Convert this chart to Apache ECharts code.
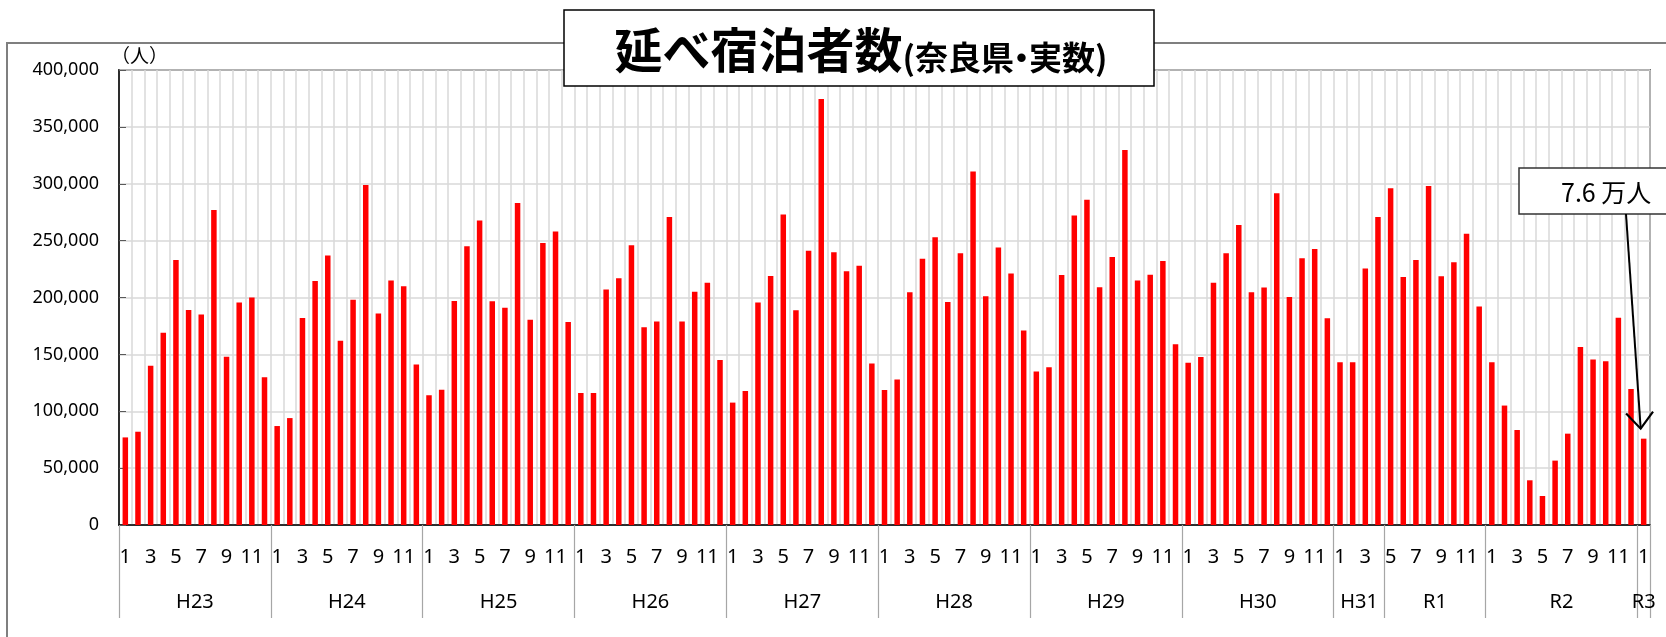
<!DOCTYPE html>
<html>
<head>
  <meta charset="utf-8">
  <title>延べ宿泊者数（奈良県・実数）</title>
  <script src="https://cdn.jsdelivr.net/npm/echarts@6/dist/echarts.min.js"></script>
  <style>
    html, body { margin: 0; padding: 0; background: #fff; }
  </style>
</head>
<body>
  <div id="main" style="width:1666px;height:637px;"></div>
  <script type="text/javascript">
    // 年度ラベル・開始月・月数
    var yearNames = ['H23', 'H24', 'H25', 'H26', 'H27', 'H28', 'H29', 'H30', 'H31', 'R1', 'R2', 'R3'];
    var yearStart = [1, 1, 1, 1, 1, 1, 1, 1, 1, 5, 1, 1];
    var yearLen = [12, 12, 12, 12, 12, 12, 12, 12, 4, 8, 12, 1];

    // 月別 延べ宿泊者数（人）
    var h23 = [77000, 82000, 140000, 169000, 233000, 189000, 185000, 277000, 148000, 195500, 200000, 130000];
    var h24 = [87000, 94000, 182000, 214500, 237000, 162000, 198000, 299000, 186000, 215000, 210000, 141000];
    var h25 = [114000, 119000, 197000, 245000, 267600, 196700, 191000, 283000, 180500, 248000, 258000, 178500];
    var h26 = [116000, 116000, 207000, 217000, 246000, 173800, 179000, 270800, 178800, 205000, 213000, 145000];
    var h27 = [107600, 117800, 195500, 219000, 273000, 188700, 241000, 374600, 239700, 223000, 228000, 142000];
    var h28 = [118700, 128000, 204600, 234000, 253000, 196000, 239000, 310700, 201000, 244000, 221000, 171000];
    var h29 = [135000, 138600, 219800, 272000, 286000, 209000, 235600, 329700, 215000, 220000, 232000, 159000];
    var h30 = [142700, 147700, 213000, 239000, 263800, 204600, 208700, 291600, 200500, 234500, 242700, 181700];
    var h31 = [143000, 143000, 225400, 270800];
    var r1 = [296000, 218000, 233000, 298000, 218600, 231000, 256000, 192000];
    var r2 = [143000, 105000, 83500, 39300, 25500, 56600, 80300, 156500, 145400, 143900, 182300, 119600];
    var r3 = [75900];

    var yTicks = [0, 50000, 100000, 150000, 200000, 250000, 300000, 350000, 400000];
    var noteText = '7.6 万人';

    var values = [].concat(h23, h24, h25, h26, h27, h28, h29, h30, h31, r1, r2, r3);

    // 月カテゴリと年の区切り
    var months = [];
    var yearEdges = [0];
    var yearMid = [];
    for (var i = 0; i < yearNames.length; i++) {
      var s = yearEdges[yearEdges.length - 1];
      for (var m = 0; m < yearLen[i]; m++) months.push(String(yearStart[i] + m));
      yearEdges.push(s + yearLen[i]);
      yearMid.push(s + yearLen[i] / 2);
    }

    var font = '"Noto Sans", "Noto Sans CJK JP", sans-serif';
    var cjk = '"Noto Sans CJK JP", sans-serif';
    var myChart = echarts.init(document.getElementById('main'));

    var option = {
      animation: false,
      textStyle: { fontFamily: font },
      grid: {
        left: 119, right: 16, top: 70, bottom: 112,
        show: true, borderColor: '#000', borderWidth: 1.5
      },
      xAxis: [{
        type: 'category',
        data: months,
        position: 'bottom',
        axisLine: { lineStyle: { color: '#000', width: 1.5 } },
        axisTick: { interval: 0, length: 47, lineStyle: { color: '#a6a6a6', width: 1.2 } },
        axisLabel: {
          interval: 0, margin: 22, fontSize: 20, color: '#000',
          formatter: function (v) { return (+v % 2) ? v : ''; }
        },
        splitLine: { show: true, interval: 0, lineStyle: { color: '#d9d9d9', width: 1.5 } }
      }, {
        type: 'value',
        position: 'bottom',
        min: 0,
        max: months.length,
        axisLine: { show: false },
        splitLine: { show: false },
        axisTick: {
          show: true, length: 93, customValues: yearEdges,
          lineStyle: { color: '#a6a6a6', width: 1.2 }
        },
        axisLabel: {
          margin: 67, fontSize: 20, color: '#000',
          customValues: yearMid,
          formatter: function (v) {
            for (var k = 0; k < yearMid.length; k++) {
              if (Math.abs(yearMid[k] - v) < 0.01) return yearNames[k];
            }
            return '';
          }
        }
      }],
      yAxis: {
        type: 'value',
        min: yTicks[0],
        max: yTicks[yTicks.length - 1],
        interval: yTicks[1] - yTicks[0],
        name: '（人）',
        nameLocation: 'end',
        nameGap: 3,
        nameTextStyle: { align: 'left', verticalAlign: 'bottom', fontSize: 19, color: '#000', padding: [0, 0, 0, -8] },
        axisLine: { show: true, lineStyle: { color: '#000', width: 1.5 } },
        axisTick: { show: true, inside: true, length: 7, lineStyle: { color: '#595959' } },
        axisLabel: {
          margin: 20, fontSize: 18, color: '#000',
          formatter: function (v) { return v.toLocaleString('en-US'); }
        },
        splitLine: { lineStyle: { color: '#d9d9d9', width: 1.5 } }
      },
      series: [{
        name: '延べ宿泊者数',
        type: 'bar',
        xAxisIndex: 0,
        barWidth: 5.5,
        itemStyle: { color: '#ff0000' },
        data: values
      }],
      graphic: [{
        id: 'frame',
        type: 'rect',
        shape: { x: 7, y: 43, width: 1700, height: 700 },
        style: { fill: 'none', stroke: '#7f7f7f', lineWidth: 2 },
        z: 1
      }, {
        id: 'titleBox',
        type: 'rect',
        shape: { x: 564, y: 10, width: 590, height: 76 },
        style: { fill: '#fff', stroke: '#000', lineWidth: 1.5 },
        z: 20
      }, {
        id: 'titleText',
        type: 'text',
        x: 861, y: 50,
        style: {
          text: '{a|延べ宿泊者数}{b|(奈良県}{c|・}{b|実数)}',
          align: 'center', verticalAlign: 'middle',
          rich: {
            a: { fontSize: 48, fontWeight: 'bold', fill: '#000', fontFamily: cjk },
            b: { fontSize: 33, fontWeight: 'bold', fill: '#000', fontFamily: cjk, verticalAlign: 'bottom', padding: [10, 0, 0, 0] },
            c: { fontSize: 33, fontWeight: 'bold', fill: '#000', fontFamily: cjk, verticalAlign: 'bottom', padding: [10, -9, 0, -9] }
          }
        },
        z: 21
      }, {
        id: 'noteBox',
        type: 'rect',
        shape: { x: 1519, y: 168, width: 170, height: 46 },
        style: { fill: '#fff', stroke: '#333', lineWidth: 1.5 },
        z: 20
      }, {
        id: 'noteText',
        type: 'text',
        x: 1561, y: 192,
        style: {
          text: noteText, fontSize: 25, fill: '#000',
          fontFamily: cjk,
          align: 'left', verticalAlign: 'middle'
        },
        z: 21
      }]
    };

    myChart.setOption(option);

    // 矢印：注記ボックスから最終月の棒へ
    var last = values.length - 1;
    var p = myChart.convertToPixel({ seriesIndex: 0 }, [last, values[last]]);
    var tip = [p[0] - 3, p[1] - 10];
    var start = [1626, 214];
    var dx = tip[0] - start[0], dy = tip[1] - start[1];
    var len = Math.sqrt(dx * dx + dy * dy);
    var ux = dx / len, uy = dy / len;
    var ang = 40 * Math.PI / 180, wl = 21;
    function wing(sign) {
      var c = Math.cos(sign * ang), s = Math.sin(sign * ang);
      var bx = -ux, by = -uy;
      return [tip[0] + wl * (bx * c - by * s), tip[1] + wl * (bx * s + by * c)];
    }

    myChart.setOption({
      graphic: [{
        id: 'arrowLine',
        type: 'line',
        shape: { x1: start[0], y1: start[1], x2: tip[0], y2: tip[1] },
        style: { stroke: '#000', lineWidth: 2 },
        z: 22
      }, {
        id: 'arrowHead',
        type: 'polyline',
        shape: { points: [wing(1), tip, wing(-1)] },
        style: { stroke: '#000', lineWidth: 2.2, fill: 'none' },
        z: 22
      }]
    });
  </script>
</body>
</html>
